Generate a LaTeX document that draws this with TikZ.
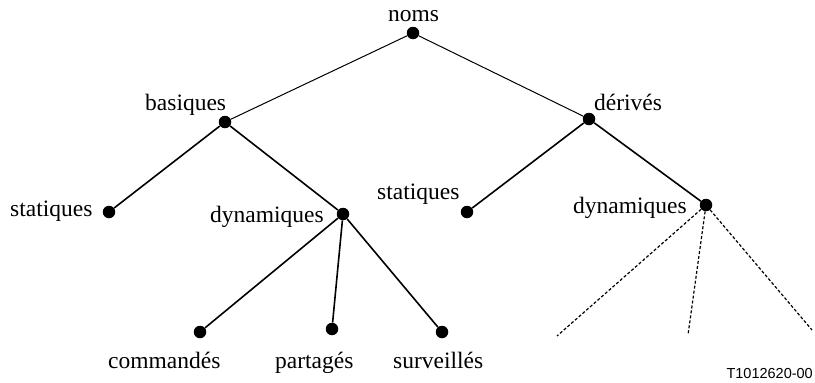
\documentclass[tikz,border=0pt]{standalone}
\usepackage{fontspec}
\setmainfont{Liberation Serif}
\newfontfamily\codefont{Liberation Sans}
\begin{document}
\begin{tikzpicture}[x=1pt,y=-1pt,
  dot/.style={circle,fill=black,inner sep=0pt,minimum size=12.5pt},
  lbl/.style={inner sep=0pt,anchor=base west,font=\fontsize{23.5}{28}\selectfont},
  thin edge/.style={line width=1pt},
  thick edge/.style={line width=1.6pt},
  open edge/.style={line width=1.2pt,dash pattern=on 3pt off 2pt}]
\useasboundingbox (0,0) rectangle (815,383);

% tree vertices
\node[dot] (noms) at (413,33) {};
\node[dot] (bas) at (225,122) {};
\node[dot] (der) at (589,119) {};
\node[dot] (bstat) at (109,212) {};
\node[dot] (bdyn) at (343,214) {};
\node[dot] (dstat) at (467,212) {};
\node[dot] (ddyn) at (706,205) {};
\node[dot] (cmd) at (200,332) {};
\node[dot] (part) at (332,329) {};
\node[dot] (surv) at (442,332) {};

% open ends of the derived dynamic branch
\coordinate (o1) at (557,336);
\coordinate (o2) at (688,335);
\coordinate (o3) at (812,330);

% labels
\node[lbl] (tnoms) at (388,21) {noms};
\node[lbl] (tbas) at (145,110) {basiques};
\node[lbl] (tder) at (594,110) {dérivés};
\node[lbl] (tbstat) at (10,216) {statiques};
\node[lbl] (tbdyn) at (210,222) {dynamiques};
\node[lbl] (tdstat) at (377,199) {statiques};
\node[lbl] (tddyn) at (573,213) {dynamiques};
\node[lbl] (tcmd) at (108,368) {commandés};
\node[lbl] (tpart) at (275,368) {partagés};
\node[lbl] (tsurv) at (393,368) {surveillés};
\node[inner sep=0pt,anchor=base east,font=\codefont\fontsize{14.5}{17}\selectfont] (code) at (813,378) {T1012620-00};

% edges
\draw[thin edge] (noms) -- (bas);
\draw[thin edge] (noms) -- (der);
\draw[thick edge] (bas) -- (bstat);
\draw[thick edge] (bas) -- (bdyn);
\draw[thick edge] (der) -- (dstat);
\draw[thick edge] (der) -- (ddyn);
\draw[thick edge] (bdyn) -- (cmd);
\draw[thick edge] (bdyn) -- (part);
\draw[thick edge] (bdyn) -- (surv);
\draw[open edge] (ddyn) -- (o1);
\draw[open edge] (ddyn) -- (o2);
\draw[open edge] (ddyn) -- (o3);
\end{tikzpicture}
\end{document}
